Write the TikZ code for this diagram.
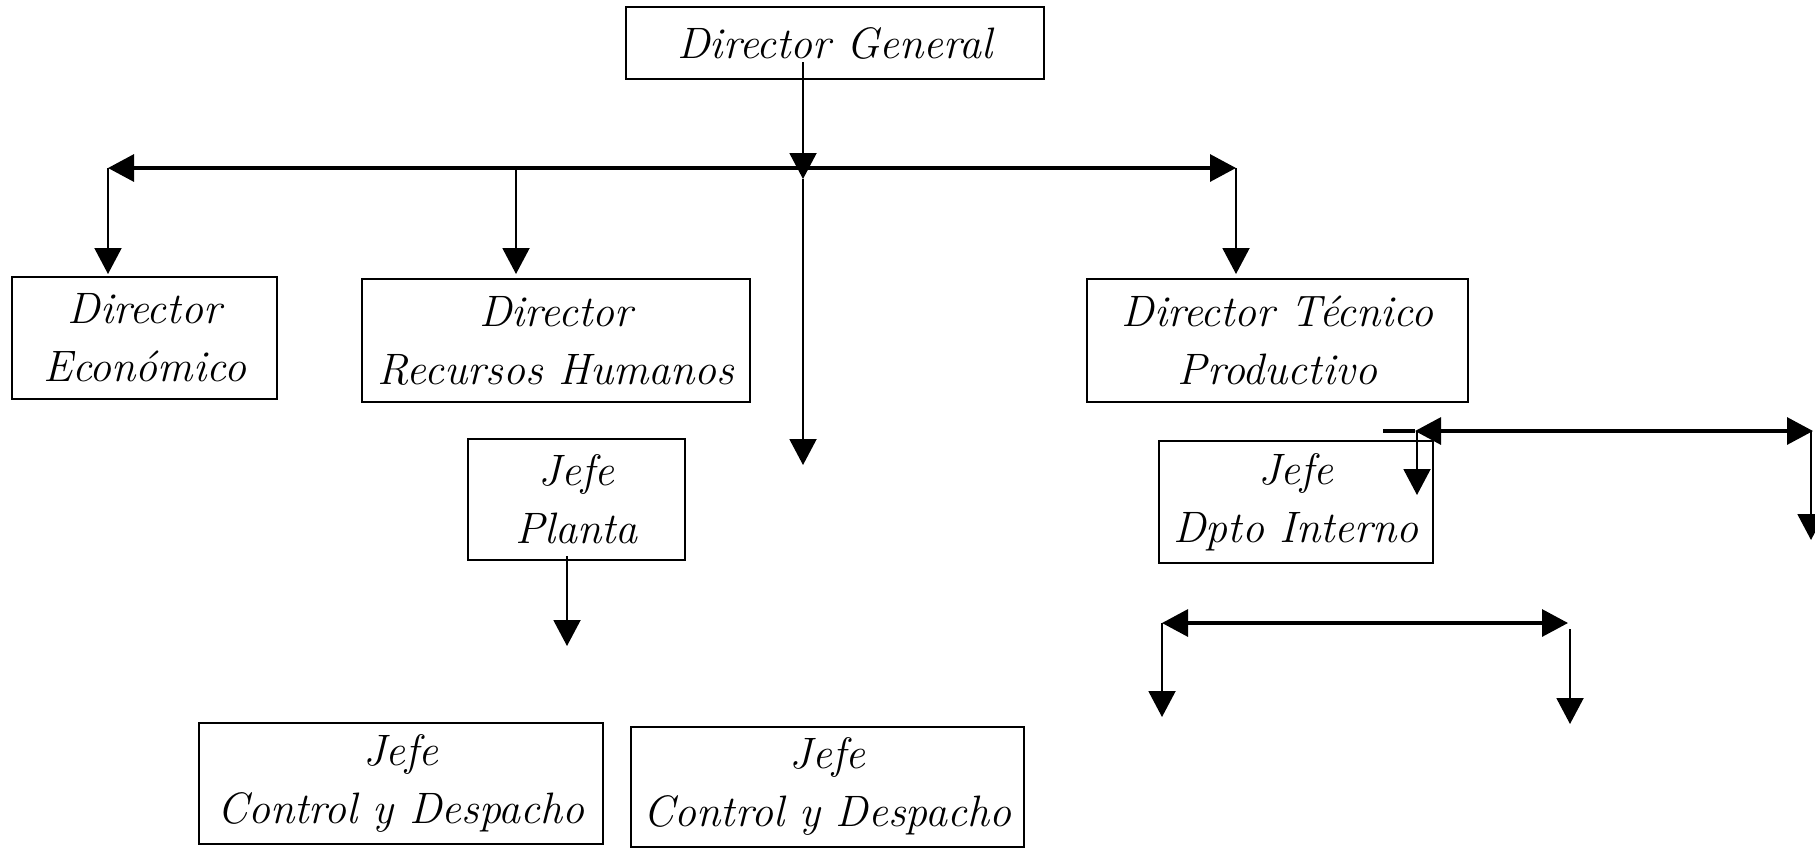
\documentclass[tikz,border=0pt]{standalone}
\usetikzlibrary{arrows.meta}
\begin{document}
\begin{tikzpicture}[x=0.5pt,y=-0.5pt,
  box/.style={draw, line width=1pt, inner sep=0pt, align=center,
    font=\fontsize{22}{29}\selectfont\itshape},
  thinln/.style={line width=1pt},
  thickln/.style={line width=1.6pt},
  >={Triangle[length=13pt,width=13.5pt]}]
\useasboundingbox (0,0) rectangle (1815,848);
\fill[white] (0,0) rectangle (1815,848);

% boxes
\node[box, minimum width=209pt, minimum height=36pt] (dg) at (835,43) {Director General};
\node[box, minimum width=132.5pt, minimum height=61pt] (de) at (144.5,338) {Director\\Económico};
\node[box, minimum width=194pt, minimum height=61.5pt] (drh) at (556,340.5) {Director\\Recursos Humanos};
\node[box, minimum width=190.5pt, minimum height=61.5pt] (dtp) at (1277.5,340.5) {Director Técnico\\Productivo};
\node[box, minimum width=108.5pt, minimum height=60.5pt] (jp) at (576.5,499.5) {Jefe\\Planta};
\node[box, minimum width=137pt, minimum height=61pt] (jdi) at (1296,502) {Jefe\\Dpto Interno};
\node[box, minimum width=202pt, minimum height=60.5pt] (jcda) at (401,783.5) {Jefe\\Control y Despacho};
\node[box, minimum width=196.5pt, minimum height=60pt] (jcdb) at (827.5,786.5) {Jefe\\Control y Despacho};

% connector points
\coordinate (dgs) at (803,62);
\coordinate (dgt) at (803,179);
\coordinate (mt) at (803,465);
\coordinate (hl) at (108,168);
\coordinate (hm) at (516,168);
\coordinate (hr) at (1236,168);
\coordinate (det) at (108,274);
\coordinate (drht) at (516,274);
\coordinate (dtpt) at (1236,274);

\coordinate (jps) at (567,556);
\coordinate (jpt) at (567,646);

\coordinate (ra) at (1383,431);
\coordinate (rb) at (1415,431);
\coordinate (rc) at (1813,431);
\coordinate (rv) at (1417,431);
\coordinate (rvt) at (1417,495);
\coordinate (rr) at (1811,431);
\coordinate (rrt) at (1811,540);

\coordinate (bl) at (1162,623);
\coordinate (br) at (1568,623);
\coordinate (blt) at (1162,717);
\coordinate (brs) at (1570,629);
\coordinate (brt) at (1570,724);

% connectors
\draw[thinln,->] (dgs) -- (dgt);
\draw[thinln,->] (dgt) -- (mt);
\draw[thickln,<->] (hl) -- (hr);
\draw[thinln,->] (hl) -- (det);
\draw[thinln,->] (hm) -- (drht);
\draw[thinln,->] (hr) -- (dtpt);

\draw[thinln,->] (jps) -- (jpt);

\draw[thickln] (ra) -- (rb);
\draw[thickln,<->] (rb) -- (rc);
\draw[thinln,->] (rv) -- (rvt);
\draw[thinln,->] (rr) -- (rrt);

\draw[thickln,<->] (bl) -- (br);
\draw[thinln,->] (bl) -- (blt);
\draw[thinln,->] (brs) -- (brt);
\end{tikzpicture}
\end{document}
